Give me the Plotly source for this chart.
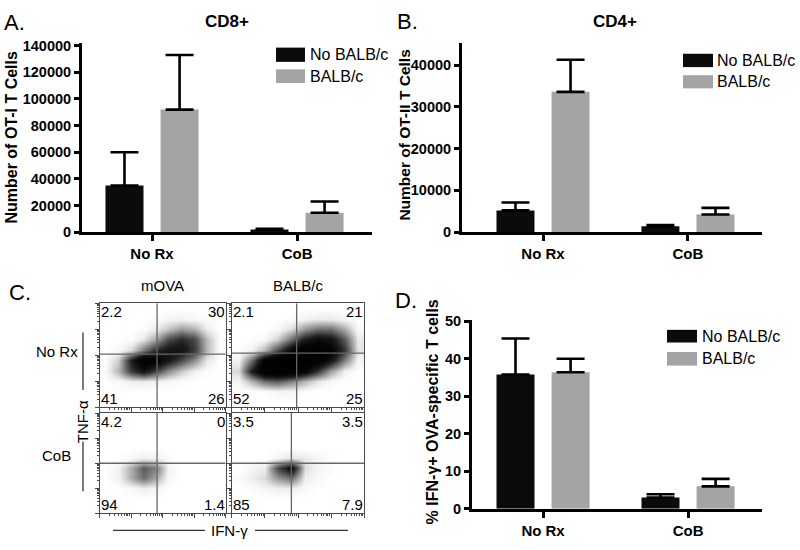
import plotly.graph_objects as go
import math

# ---------------- data ----------------
categories = ["No Rx", "CoB"]
series_names = ["No BALB/c", "BALB/c"]
series_colors = ["#0b0b0b", "#a4a4a6"]

# Panel A: CD8+ (Number of OT-I T cells)
cd8_no_balb = [35000, 2000]
cd8_no_balb_upper = [60000, 2500]
cd8_balb = [92000, 14500]
cd8_balb_upper = [133000, 23000]
cd8_ticks = [0, 20000, 40000, 60000, 80000, 100000, 120000, 140000]

# Panel B: CD4+ (Number of OT-II T cells)
cd4_no_balb = [5200, 1400]
cd4_no_balb_upper = [7100, 1700]
cd4_balb = [33600, 4200]
cd4_balb_upper = [41300, 5800]
cd4_ticks = [0, 10000, 20000, 30000, 40000]

# Panel D: % IFN-g+ OVA-specific T cells
ifn_no_balb = [35.8, 3.0]
ifn_no_balb_upper = [45.4, 3.9]
ifn_balb = [36.4, 6.0]
ifn_balb_upper = [40.0, 8.0]
ifn_ticks = [0, 10, 20, 30, 40, 50]

# Panel C: flow cytometry (relative density)
flow_cols = ["mOVA", "BALB/c"]
flow_rows = ["No Rx", "CoB"]
grid_pos = [0.05, 0.15, 0.25, 0.35, 0.45, 0.55, 0.65, 0.75, 0.85, 0.95]
Z0 = [0, 0, 0, 0, 0, 0, 0, 0, 0, 0]
dens_mova_norx = [
    Z0, Z0,
    [0, 0.02, 0.05, 0.06, 0.04, 0.02, 0.01, 0, 0, 0],
    [0.02, 0.18, 0.5, 0.65, 0.45, 0.27, 0.13, 0.04, 0.01, 0],
    [0.01, 0.13, 0.6, 0.9, 0.8, 0.62, 0.45, 0.27, 0.07, 0],
    [0, 0.02, 0.1, 0.32, 0.55, 0.65, 0.65, 0.5, 0.18, 0.01],
    [0, 0, 0.01, 0.07, 0.22, 0.45, 0.55, 0.45, 0.17, 0.01],
    [0, 0, 0, 0.01, 0.06, 0.15, 0.24, 0.19, 0.06, 0],
    [0, 0, 0, 0, 0.01, 0.03, 0.04, 0.03, 0.01, 0],
    Z0,
]
dens_balb_norx = [
    Z0,
    [0, 0, 0.01, 0.03, 0.03, 0.01, 0, 0, 0, 0],
    [0.03, 0.18, 0.35, 0.4, 0.3, 0.18, 0.07, 0.02, 0, 0],
    [0.1, 0.6, 0.9, 0.95, 0.9, 0.75, 0.5, 0.22, 0.04, 0],
    [0.04, 0.35, 0.8, 0.95, 0.95, 0.9, 0.85, 0.65, 0.3, 0.03],
    [0, 0.04, 0.18, 0.45, 0.75, 0.9, 0.9, 0.8, 0.5, 0.08],
    [0, 0, 0.02, 0.12, 0.35, 0.6, 0.7, 0.65, 0.4, 0.06],
    [0, 0, 0, 0.02, 0.1, 0.25, 0.35, 0.35, 0.2, 0.02],
    [0, 0, 0, 0, 0.01, 0.04, 0.06, 0.06, 0.03, 0],
    Z0,
]
dens_mova_cob = [
    Z0, Z0,
    [0, 0, 0.02, 0.05, 0.03, 0, 0, 0, 0, 0],
    [0, 0.04, 0.2, 0.35, 0.2, 0.02, 0, 0, 0, 0],
    [0, 0.04, 0.2, 0.4, 0.3, 0.03, 0, 0, 0, 0],
    [0, 0, 0.02, 0.05, 0.04, 0.01, 0, 0, 0, 0],
    Z0, Z0, Z0, Z0,
]
dens_balb_cob = [
    Z0, Z0,
    [0, 0.01, 0.03, 0.05, 0.05, 0.02, 0, 0, 0, 0],
    [0.01, 0.05, 0.1, 0.25, 0.35, 0.05, 0.02, 0, 0, 0],
    [0, 0.03, 0.06, 0.45, 0.7, 0.1, 0.03, 0.01, 0, 0],
    [0, 0, 0, 0.03, 0.08, 0.06, 0.03, 0.01, 0, 0],
    Z0, Z0, Z0, Z0,
]
flow_density = [dens_mova_norx, dens_balb_norx, dens_mova_cob, dens_balb_cob]
gate_x = [0.456, 0.49, 0.456, 0.45]
gate_y = [0.51, 0.52, 0.50, 0.50]
quad_pct = [
    ["2.2", "30", "41", "26"],
    ["2.1", "21", "52", "25"],
    ["4.2", "0", "94", "1.4"],
    ["3.5", "3.5", "85", "7.9"],
]

# ---------------- helpers ----------------
W, H = 800, 550
FONT = "Liberation Sans, Arial, Helvetica, sans-serif"


def px(x):
    return x / W


def py(y):
    return 1 - y / H


fig = go.Figure()

bar_panels = [
    ("x", "y", [cd8_no_balb, cd8_balb], [cd8_no_balb_upper, cd8_balb_upper]),
    ("x2", "y2", [cd4_no_balb, cd4_balb], [cd4_no_balb_upper, cd4_balb_upper]),
    ("x3", "y3", [ifn_no_balb, ifn_balb], [ifn_no_balb_upper, ifn_balb_upper]),
]
for xa, ya, means, uppers in bar_panels:
    for i in range(2):
        fig.add_trace(go.Bar(
            x=categories, y=means[i], name=series_names[i],
            marker=dict(color=series_colors[i], line=dict(width=0)),
            error_y=dict(type="data", symmetric=False,
                         array=[u - m for u, m in zip(uppers[i], means[i])],
                         arrayminus=[0] * len(means[i]),
                         color="black", thickness=2.6, width=14),
            xaxis=xa, yaxis=ya, showlegend=False,
        ))

flow_axes = [("x4", "y4"), ("x5", "y5"), ("x6", "y6"), ("x7", "y7")]
for k, (xa, ya) in enumerate(flow_axes):
    fig.add_trace(go.Heatmap(
        x=grid_pos, y=grid_pos, z=flow_density[k], zmin=0, zmax=1,
        zsmooth="best", showscale=False, hoverinfo="skip",
        colorscale=[[0, "#ffffff"], [0.06, "#ececec"], [0.18, "#b4b4b4"], [0.38, "#626262"],
                    [0.58, "#1e1e1e"], [0.75, "#050505"], [1, "#000000"]],
        xaxis=xa, yaxis=ya,
    ))

# ---------------- axes ----------------
bar_x_common = dict(showline=True, linewidth=3, linecolor="black", ticks="outside",
                    ticklen=6, tickwidth=3, tickcolor="black", showgrid=False,
                    zeroline=False, tickfont=dict(family=FONT, size=15, color="black", weight="bold"),
                    type="category")
bar_y_common = dict(showline=True, linewidth=3, linecolor="black", ticks="outside",
                    ticklen=5, tickwidth=3, tickcolor="black", showgrid=False, tickformat="d",
                    zeroline=False, tickfont=dict(family=FONT, size=14.5, color="black", weight="bold"))

fig.update_layout(
    xaxis=dict(domain=[px(82), px(372)], range=[-0.483, 1.517], anchor="y", **bar_x_common),
    yaxis=dict(domain=[py(232), py(38)], range=[0, 142000], tickvals=cd8_ticks, anchor="x", **bar_y_common),
    xaxis2=dict(domain=[px(462), px(762)], range=[-0.559, 1.511], anchor="y2", **bar_x_common),
    yaxis2=dict(domain=[py(232), py(38)], range=[0, 45300], tickvals=cd4_ticks, anchor="x2", **bar_y_common),
    xaxis3=dict(domain=[px(472), px(762)], range=[-0.49, 1.51], anchor="y3", **bar_x_common),
    yaxis3=dict(domain=[py(516), py(322)], range=[0, 50.4], tickvals=ifn_ticks, anchor="x3", **bar_y_common),
)

# log-decade tick marks on the flow plots
major = [d / 4 for d in range(5)]
minor = [(d + math.log10(m)) / 4 for d in range(4) for m in range(2, 10)]
flow_axis_common = dict(range=[0, 1], showline=True, mirror=True, linewidth=1, linecolor="#4a4a4a",
                        ticks="outside", tickvals=major, ticklen=4, tickwidth=1, tickcolor="#4a4a4a",
                        minor=dict(tickvals=minor, ticks="outside", ticklen=2, tickwidth=1, tickcolor="#4a4a4a"),
                        showticklabels=False, showgrid=False, zeroline=False, fixedrange=True)
flow_boxes = [
    (99.5, 225.7, 305, 411.7),
    (231.7, 364.3, 305, 411.7),
    (99.5, 225.7, 417.7, 520.7),
    (231.7, 364.3, 417.7, 520.7),
]
for k, (x0, x1, y0, y1) in enumerate(flow_boxes):
    n = k + 4
    fig.update_layout(**{
        f"xaxis{n}": dict(domain=[px(x0), px(x1)], anchor=f"y{n}", **flow_axis_common),
        f"yaxis{n}": dict(domain=[py(y1), py(y0)], anchor=f"x{n}", **flow_axis_common),
    })

shapes = []
annotations = []

# quadrant gates and percentages
for k, (xa, ya) in enumerate(flow_axes):
    shapes.append(dict(type="line", xref=xa, yref=ya, x0=gate_x[k], x1=gate_x[k], y0=0, y1=1,
                       line=dict(color="#666666", width=1.3)))
    shapes.append(dict(type="line", xref=xa, yref=ya, x0=0, x1=1, y0=gate_y[k], y1=gate_y[k],
                       line=dict(color="#666666", width=1.3)))
    corners = [(0, 1, "left", "top"), (1, 1, "right", "top"), (0, 0, "left", "bottom"), (1, 0, "right", "bottom")]
    for txt, (cx, cy, xan, yan) in zip(quad_pct[k], corners):
        annotations.append(dict(text=txt, xref=f"{xa} domain", yref=f"{ya} domain", x=cx, y=cy,
                                xanchor=xan, yanchor=yan, showarrow=False, borderpad=0,
                                yshift=1 if cy == 1 else -1,
                                font=dict(family=FONT, size=15, color="black")))

# legends (drawn as swatches + labels)
legend_spots = [
    (276, 305, [(42.7, 57.3), (65, 79)], 308),
    (683, 713, [(49, 62.7), (71, 84.5)], 715),
    (667, 697, [(332.3, 345.3), (355, 369)], 700),
]
for x0, x1, rows, tx in legend_spots:
    for i, (y0, y1) in enumerate(rows):
        shapes.append(dict(type="rect", xref="paper", yref="paper", x0=px(x0), x1=px(x1),
                           y0=py(y1), y1=py(y0), fillcolor=series_colors[i], line=dict(width=0)))
        annotations.append(dict(text=series_names[i], xref="paper", yref="paper", x=px(tx),
                                y=py((y0 + y1) / 2), xanchor="left", yanchor="middle", showarrow=False,
                                font=dict(family=FONT, size=16, color="black")))

# titles, axis titles and panel letters
texts = [
    ("CD8+", 227, 16, 0, "center", 17, "bold"),
    ("CD4+", 615, 16, 0, "center", 17, "bold"),
    ("Number of OT-I T Cells", 12, 135, -90, "center", 16, "bold"),
    ("Number of OT-II T Cells", 405, 133, -90, "center", 15.5, "bold"),
    ("% IFN-γ+ OVA-specific T cells", 432, 417, -90, "center", 16, "bold"),
    ("A.", 2, 17, 0, "left", 22, "normal"),
    ("B.", 395, 16, 0, "left", 22, "normal"),
    ("C.", 7, 294, 0, "left", 22, "normal"),
    ("D.", 393, 302, 0, "left", 22, "normal"),
    (flow_cols[0], 162, 287, 0, "center", 15, "normal"),
    (flow_cols[1], 298, 287, 0, "center", 15, "normal"),
    (flow_rows[0], 57, 355, 0, "center", 15, "normal"),
    (flow_rows[1], 57, 461, 0, "center", 15, "normal"),
    ("TNF-α", 82, 427, -90, "center", 15, "normal"),
    ("IFN-γ", 230, 538, 0, "center", 15, "normal"),
]
for txt, x, y, ang, xan, size, wt in texts:
    annotations.append(dict(text=txt, xref="paper", yref="paper", x=px(x), y=py(y), textangle=ang,
                            xanchor=xan, yanchor="middle", showarrow=False,
                            font=dict(family=FONT, size=size, color="black", weight=wt)))

# axis-name rules in panel C
for (x0, y0, x1, y1) in [(83, 335, 83, 394), (83, 447, 83, 498), (113, 538, 205, 538), (255, 538, 348, 538)]:
    shapes.append(dict(type="line", xref="paper", yref="paper", x0=px(x0), y0=py(y0), x1=px(x1), y1=py(y1),
                       line=dict(color="#333333", width=1.3), layer="below"))

fig.update_layout(
    width=W, height=H, autosize=False,
    margin=dict(l=0, r=0, t=0, b=0),
    paper_bgcolor="white", plot_bgcolor="white",
    barmode="group", bargap=0.24, bargroupgap=0.31,
    showlegend=False, shapes=shapes, annotations=annotations,
    font=dict(family=FONT, color="black"),
)

fig.write_html("out.html", config={"displayModeBar": False},
               post_script="document.body.style.margin='0';document.body.style.overflow='hidden';")
